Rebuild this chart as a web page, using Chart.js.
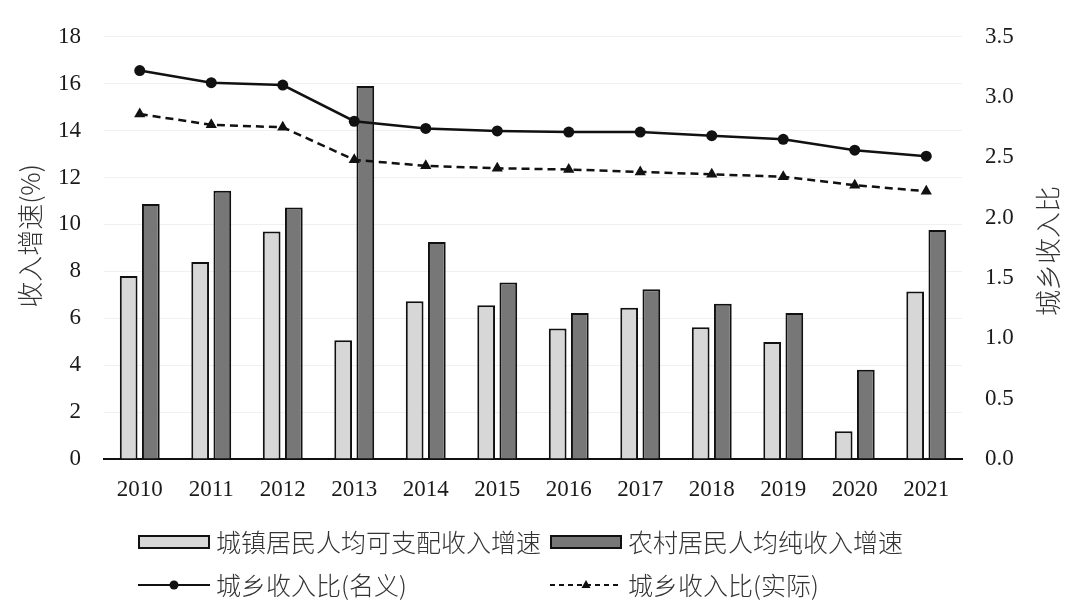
<!DOCTYPE html>
<html>
<head>
<meta charset="utf-8">
<script src="https://cdn.jsdelivr.net/npm/chart.js@4/dist/chart.umd.min.js"></script>
<style>
  html, body { margin: 0; padding: 0; background: #fff; }
  #wrap { width: 1080px; height: 612px; position: relative; }
</style>
</head>
<body>
<div id="wrap"><canvas id="c" width="1080" height="612"></canvas></div>
<script>
const years = ['2010','2011','2012','2013','2014','2015','2016','2017','2018','2019','2020','2021'];
const urbanGrowth = [7.8, 8.4, 9.7, 5.06, 6.73, 6.56, 5.56, 6.45, 5.62, 4.99, 1.18, 7.14];
const ruralGrowth = [10.87, 11.44, 10.72, 15.9, 9.25, 7.52, 6.22, 7.24, 6.62, 6.22, 3.80, 9.76];
const ratioNominal = [3.22, 3.12, 3.10, 2.80, 2.74, 2.72, 2.71, 2.71, 2.68, 2.65, 2.56, 2.51];
const ratioReal = [2.86, 2.77, 2.75, 2.48, 2.43, 2.41, 2.40, 2.38, 2.36, 2.34, 2.27, 2.22];
const leftTicks = [0, 2, 4, 6, 8, 10, 12, 14, 16, 18];
const rightTicks = [0, 0.5, 1.0, 1.5, 2.0, 2.5, 3.0, 3.5];

const labelUrban = '城镇居民人均可支配收入增速';
const labelRural = '农村居民人均纯收入增速';
const labelNominal = '城乡收入比(名义)';
const labelReal = '城乡收入比(实际)';
const titleLeft = '收入增速(%)';
const titleRight = '城乡收入比';

const serif = '"Liberation Serif", "DejaVu Serif", serif';
const cjk = '"Noto Sans CJK SC", "Noto Sans", sans-serif';

const W = 1080, H = 612;
const AREA = { left: 104, right: 962, top: 33, bottom: 459 };

const extras = {
  id: 'extras',
  afterDraw(chart) {
    const ctx = chart.ctx;
    const ds = chart.data.datasets;
    ctx.save();
    // axis titles
    ctx.fillStyle = '#333';
    ctx.font = '300 26px ' + cjk;
    ctx.textAlign = 'center';
    ctx.textBaseline = 'middle';
    ctx.save();
    ctx.translate(30, 236);
    ctx.rotate(-Math.PI / 2);
    ctx.fillText(titleLeft, 0, 0);
    ctx.restore();
    ctx.save();
    ctx.translate(1048, 251);
    ctx.rotate(-Math.PI / 2);
    ctx.fillText(titleRight, 0, 0);
    ctx.restore();

    // legend
    const items = [
      { ds: ds[2], type: 'bar', x: 138, y: 542 },
      { ds: ds[3], type: 'bar', x: 550, y: 542 },
      { ds: ds[0], type: 'line', x: 138, y: 585 },
      { ds: ds[1], type: 'line', x: 550, y: 585 }
    ];
    items.forEach(it => {
      const d = it.ds;
      if (it.type === 'bar') {
        ctx.fillStyle = d.backgroundColor;
        ctx.strokeStyle = d.borderColor;
        ctx.lineWidth = 2;
        ctx.fillRect(it.x + 1, it.y - 6, 70, 12);
        ctx.strokeRect(it.x + 1, it.y - 6, 70, 12);
      } else {
        ctx.strokeStyle = d.borderColor;
        ctx.lineWidth = 2;
        ctx.setLineDash(d.borderDash ? [5, 4] : []);
        ctx.beginPath();
        ctx.moveTo(it.x, it.y);
        ctx.lineTo(it.x + 72, it.y);
        ctx.stroke();
        ctx.setLineDash([]);
        ctx.fillStyle = d.pointBackgroundColor;
        const cx = it.x + 36;
        if (d.pointStyle === 'triangle') {
          ctx.beginPath();
          ctx.moveTo(cx, it.y - 5);
          ctx.lineTo(cx + 4.5, it.y + 3);
          ctx.lineTo(cx - 4.5, it.y + 3);
          ctx.closePath();
          ctx.fill();
        } else {
          ctx.beginPath();
          ctx.arc(cx, it.y, 4.5, 0, Math.PI * 2);
          ctx.fill();
        }
      }
      ctx.fillStyle = '#333';
      ctx.font = '300 25px ' + cjk;
      ctx.textAlign = 'left';
      ctx.textBaseline = 'middle';
      ctx.fillText(d.label, it.x + 78, it.y);
    });
    ctx.restore();
  }
};

new Chart(document.getElementById('c'), {
  type: 'bar',
  data: {
    labels: years,
    datasets: [
      {
        type: 'line', label: labelNominal, data: ratioNominal, yAxisID: 'y1', order: 0,
        borderColor: '#111', borderWidth: 2.5, pointStyle: 'circle', pointRadius: 5.5,
        pointBackgroundColor: '#111', pointBorderColor: '#111', pointBorderWidth: 0, tension: 0, fill: false
      },
      {
        type: 'line', label: labelReal, data: ratioReal, yAxisID: 'y1', order: 0,
        borderColor: '#111', borderWidth: 2.5, borderDash: [8, 5], pointStyle: 'triangle', pointRadius: 6.5,
        pointBackgroundColor: '#111', pointBorderColor: '#111', pointBorderWidth: 0, tension: 0, fill: false
      },
      {
        type: 'bar', label: labelUrban, data: urbanGrowth, yAxisID: 'y', order: 1,
        backgroundColor: '#d7d7d7', borderColor: '#111', borderWidth: 2,
        categoryPercentage: 0.62, barPercentage: 0.8
      },
      {
        type: 'bar', label: labelRural, data: ruralGrowth, yAxisID: 'y', order: 1,
        backgroundColor: '#777777', borderColor: '#111', borderWidth: 2,
        categoryPercentage: 0.62, barPercentage: 0.8
      }
    ]
  },
  options: {
    responsive: false,
    animation: false,
    devicePixelRatio: 1,
    layout: { padding: { top: AREA.top, left: 0, right: 0, bottom: 0 } },
    plugins: { legend: { display: false }, tooltip: { enabled: false }, title: { display: false } },
    scales: {
      x: {
        type: 'category',
        offset: true,
        grid: { display: false, drawTicks: false },
        border: { display: true, color: '#111', width: 2 },
        ticks: { font: { family: serif, size: 23 }, color: '#1a1a1a', padding: 17, maxRotation: 0 },
        afterFit(s) { s.height = H - AREA.bottom; }
      },
      y: {
        position: 'left', min: 0, max: 18,
        afterBuildTicks(s) { s.ticks = leftTicks.map(v => ({ value: v })); },
        grid: { color: '#f0f0f0', lineWidth: 1, drawTicks: false },
        border: { display: false },
        ticks: { font: { family: serif, size: 23 }, color: '#1a1a1a', padding: 23 },
        afterFit(s) { s.width = AREA.left; }
      },
      y1: {
        position: 'right', min: 0, max: 3.5,
        afterBuildTicks(s) { s.ticks = rightTicks.map(v => ({ value: v })); },
        grid: { display: false, drawTicks: false },
        border: { display: false },
        ticks: { font: { family: serif, size: 23 }, color: '#1a1a1a', padding: 23, callback: v => Number(v).toFixed(1) },
        afterFit(s) { s.width = W - AREA.right; }
      }
    }
  },
  plugins: [extras]
});
</script>
</body>
</html>
